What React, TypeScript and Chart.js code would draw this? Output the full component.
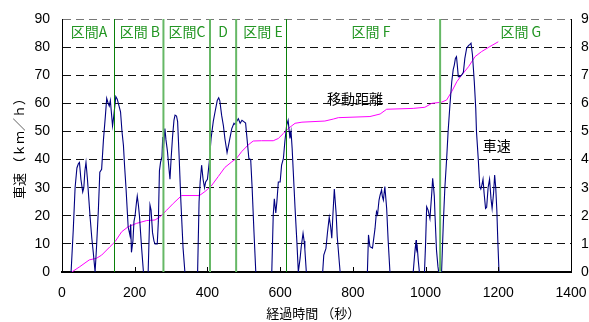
import React, { useEffect, useRef } from 'react';
import { Chart, registerables } from 'chart.js';

Chart.register(...registerables);

// Vehicle speed (km/h) vs elapsed time (s); null separates stops
const speedTime = [
  25, 31, 36, 41, 45, 48, 52, 57, 60, 63, 66, 70, 77, 82, 86, 91,
  95, 100, 104, 109, 114, 119, 123, 127, 130, 133, 137, 139, 142, 148, 152, 155, 161, 165, 169, 172, 176, 182, 187, 189, 191, 195, 198, 201, 205, 207, 210, 213, 219, 224,
  230,
  237, 242, 245, 249, 253, 256, 262, 265, 268, 271, 275, 277, 279, 283, 286, 290, 294, 297, 300, 304, 308, 311, 315, 318, 322, 327, 333, 338,
  350,
  373, 377, 380, 384, 388, 392, 395, 400, 405, 410, 416, 421, 427, 431, 434, 439, 444, 448, 454, 460, 467, 473, 476, 480, 485, 490, 495, 500, 505, 508, 514, 519, 523, 528, 533,
  550,
  577, 581, 584, 588, 591, 595, 600, 604, 609, 613, 618, 622, 625, 627, 630, 633, 636, 641, 646, 650, 655, 658, 663, 666, 668, 672,
  690,
  717, 720, 726, 730, 735, 739, 742, 745, 749, 754, 757, 763, 765,
  800,
  840, 843, 847, 854, 861, 865, 868, 872, 875, 879, 881, 884, 888, 893, 897, 902,
  930,
  966, 971, 974, 975, 977, 980, 983,
  990,
  997, 1000, 1003, 1007, 1012, 1017, 1019.5, 1022, 1024, 1026, 1030, 1034, 1036,
  1040,
  1044, 1049, 1053, 1058, 1062, 1067, 1072, 1076, 1079, 1082, 1085, 1087, 1090, 1094, 1099, 1104, 1108, 1113, 1118, 1122, 1125, 1129, 1134, 1138, 1140, 1145, 1149, 1152, 1155, 1158, 1161, 1165, 1168, 1172, 1176, 1180, 1183, 1187, 1190, 1193, 1196, 1199, 1202,
];
const speedKmh = [
  0, 15, 30, 37, 38.5, 39, 33, 28.5, 30, 36, 39, 33, 20, 12, 7, 0,
  9, 22, 35.5, 36.5, 47, 55, 61.8, 60, 59, 61, 55, 52, 55, 62.4, 61.5, 60, 57, 50, 45, 38, 30, 16, 13, 17, 7, 11, 18, 20, 25, 27, 24, 20, 8.5, 0,
  null,
  0, 23.8, 22, 14, 11, 10, 10, 18, 36, 39, 41, 48, 44, 51, 47, 43, 37, 33, 40, 48, 54, 55.8, 55.5, 53.5, 41.6, 25, 8.5, 0,
  null,
  0, 25, 32, 38, 33, 30, 32, 33, 39, 47.5, 53.5, 57, 61, 62, 61, 55.8, 52, 47.5, 42.5, 46.4, 51, 52.9, 52.5, 53.5, 54.5, 52.9, 54, 53.5, 53, 48.7, 40.4, 40, 29.8, 14.3, 0,
  null,
  0, 20.3, 26, 21, 25, 32, 32, 38, 40.4, 46.4, 52.3, 54, 50, 47.5, 50, 44, 36, 22.8, 10.8, 0, 5, 9, 13.8, 11, 8, 0,
  null,
  0, 6, 8.4, 13.8, 19.5, 16, 12, 20, 29.5, 20.8, 12.6, 3, 0,
  null,
  0, 13.2, 9, 8.5, 15.5, 21.5, 20.5, 25.6, 27.4, 29.2, 27, 25.6, 30.4, 22.6, 11.4, 0,
  null,
  0, 7.8, 11.4, 8, 9, 4, 0,
  null,
  0, 10, 23.2, 22, 19, 28, 33.3, 30, 27, 20, 7.8, 2, 0,
  null,
  0, 18, 29.8, 40.4, 50, 59.4, 67.7, 72, 73.6, 76, 76.6, 74, 69.5, 69.5, 70, 71, 76, 79.6, 80.5, 81, 81.4, 77.2, 67.7, 58.2, 50, 40, 30.5, 29.5, 31, 33, 28, 22.6, 23, 30, 33, 26, 22.6, 28, 34.5, 30, 22, 10, 0,
];

// Travelled distance (right axis) vs elapsed time (s)
const distTime = [
  27, 49, 75, 95, 109, 132, 146, 164, 182, 205, 233, 256, 270, 288, 306, 329, 352, 378, 393, 410, 430, 448, 467, 480, 494, 512, 526, 549, 581, 595, 609, 622, 641, 660, 723, 746, 760, 847, 875, 893, 966, 998, 1017, 1044, 1058, 1072, 1086, 1099, 1118, 1136, 1154, 1177, 1200,
];
const distKm = [
  0, 0.19, 0.43, 0.49, 0.6, 0.9, 1.08, 1.43, 1.61, 1.73, 1.83, 1.85, 1.97, 2.2, 2.44, 2.72, 2.72, 2.72, 2.86, 3.05, 3.4, 3.72, 3.92, 4.04, 4.28, 4.52, 4.66, 4.67, 4.67, 4.75, 4.93, 5.1, 5.29, 5.33, 5.37, 5.44, 5.49, 5.53, 5.62, 5.79, 5.82, 5.86, 6.0, 6.04, 6.12, 6.42, 6.77, 7.0, 7.3, 7.66, 7.84, 8.02, 8.19,
];

const sectionBoundaries = [142, 279, 407, 479, 617, 1040];
const boundaryStrong = [true, false, false, false, true, false];
const sectionNames = ['区間A', '区間 B', '区間C', 'D', '区間 E', '区間 F', '区間 G'];
const sectionLabelTime = [74, 214, 344, 443, 553, 850, 1262];
const sectionLabelLevel = 85.4;

const annotationTexts = ['移動距離', '車速'];
const annotationTime = [806, 1196];
const annotationLevel = [61.5, 44.8];

const xTickStep = 200;
const xMax = 1400;
const yMax = 90;
const y2Max = 9;

const LATIN = "'Liberation Sans', Arial, 'Noto Sans CJK JP', sans-serif";
const CJK = "'Noto Sans CJK JP', 'Liberation Sans', sans-serif";

const overlayPlugin = {
  id: 'overlay',
  afterDatasetsDraw(chart: any) {
    const { ctx, chartArea, scales } = chart;
    const x = scales.x;
    const y = scales.y;
    ctx.save();
    sectionBoundaries.forEach((t, i) => {
      let px = x.getPixelForValue(t);
      ctx.beginPath();
      if (boundaryStrong[i]) {
        px = Math.round(px) + 0.5;
        ctx.strokeStyle = '#0a800a';
        ctx.lineWidth = 1;
      } else {
        ctx.strokeStyle = '#66b866';
        ctx.lineWidth = 2;
      }
      ctx.moveTo(px, chartArea.top);
      ctx.lineTo(px, chartArea.bottom);
      ctx.stroke();
    });
    ctx.fillStyle = '#239623';
    ctx.font = `14px ${CJK}`;
    ctx.textAlign = 'center';
    ctx.textBaseline = 'middle';
    sectionNames.forEach((name, i) => {
      ctx.fillText(name, x.getPixelForValue(sectionLabelTime[i]), y.getPixelForValue(sectionLabelLevel));
    });
    ctx.fillStyle = '#000';
    annotationTexts.forEach((txt, i) => {
      ctx.fillText(txt, x.getPixelForValue(annotationTime[i]), y.getPixelForValue(annotationLevel[i]));
    });
    ctx.strokeStyle = '#000';
    ctx.lineWidth = 1;
    for (let t = xTickStep; t < xMax; t += xTickStep) {
      const px = Math.round(x.getPixelForValue(t)) + 0.5;
      ctx.beginPath();
      ctx.moveTo(px, chartArea.bottom);
      ctx.lineTo(px, chartArea.bottom - 5);
      ctx.stroke();
    }
    ctx.restore();
  },
};

export default function App() {
  const canvasRef = useRef<HTMLCanvasElement | null>(null);

  useEffect(() => {
    const canvas = canvasRef.current;
    if (!canvas) return;
    const speedData = speedTime.map((t, i) => ({ x: t, y: speedKmh[i] }));
    const distData = distTime.map((t, i) => ({ x: t, y: distKm[i] }));

    const chart = new Chart(canvas, {
      type: 'line',
      data: {
        datasets: [
          {
            label: '車速',
            data: speedData as any,
            borderColor: '#000080',
            borderWidth: 1.1,
            pointRadius: 0,
            tension: 0,
            spanGaps: false,
            yAxisID: 'y',
          },
          {
            label: '移動距離',
            data: distData as any,
            borderColor: '#ff00ff',
            borderWidth: 1,
            pointRadius: 0,
            tension: 0,
            yAxisID: 'y2',
          },
        ],
      },
      options: {
        animation: false,
        responsive: false,
        maintainAspectRatio: false,
        parsing: false as any,
        normalized: true,
        layout: { padding: { top: 19, left: 0, right: 0, bottom: 0 } },
        plugins: {
          legend: { display: false },
          tooltip: { enabled: false },
        },
        scales: {
          x: {
            type: 'linear',
            min: 0,
            max: xMax,
            afterFit: (s: any) => { s.height = 50; s.paddingLeft = 0; s.paddingRight = 0; },
            ticks: {
              stepSize: xTickStep,
              color: '#000',
              font: { family: LATIN, size: 14 },
              padding: 13,
              maxRotation: 0,
              autoSkip: false,
              callback: (v: any) => String(v),
            },
            grid: { display: true, drawOnChartArea: false, drawTicks: false },
            border: { display: true, color: '#000', width: 2 },
            title: {
              display: true,
              text: '経過時間 （秒）　',
              color: '#000',
              font: { family: CJK, size: 13, lineHeight: 1 },
              padding: { top: 0, bottom: 2 },
            },
          },
          y: {
            type: 'linear',
            position: 'left',
            min: 0,
            max: yMax,
            afterFit: (s: any) => { s.width = 62; s.paddingTop = 0; s.paddingBottom = 0; },
            ticks: {
              stepSize: 10,
              color: '#000',
              font: { family: LATIN, size: 14 },
              padding: 12,
              callback: (v: any) => String(v),
            },
            grid: {
              drawTicks: false,
              lineWidth: 1,
              color: (c: any) => (c.tick && c.tick.value === 0 ? 'rgba(0,0,0,0)' : c.tick && c.tick.value === yMax ? '#777' : '#111'),
            },
            border: { display: true, color: '#000', width: 1, dash: [8, 5] },
            title: {
              display: true,
              text: '車速 （ｋｍ／ｈ）',
              color: '#000',
              font: { family: CJK, size: 13, lineHeight: 1 },
              padding: { top: 13, bottom: 0 },
            },
          },
          y2: {
            type: 'linear',
            position: 'right',
            min: 0,
            max: y2Max,
            afterFit: (s: any) => { s.width = 18; s.paddingTop = 0; s.paddingBottom = 0; },
            ticks: {
              stepSize: 1,
              color: '#000',
              font: { family: LATIN, size: 14 },
              padding: 10,
              callback: (v: any) => String(v),
            },
            grid: { drawOnChartArea: false, drawTicks: false },
            border: { display: true, color: '#000', width: 1 },
          },
        },
      },
      plugins: [overlayPlugin],
    });
    return () => chart.destroy();
  }, []);

  return (
    <div style={{ position: 'absolute', left: 0, top: 0, width: 589, height: 322, background: '#fff' }}>
      <canvas ref={canvasRef} width={589} height={322} style={{ display: 'block' }} />
    </div>
  );
}
